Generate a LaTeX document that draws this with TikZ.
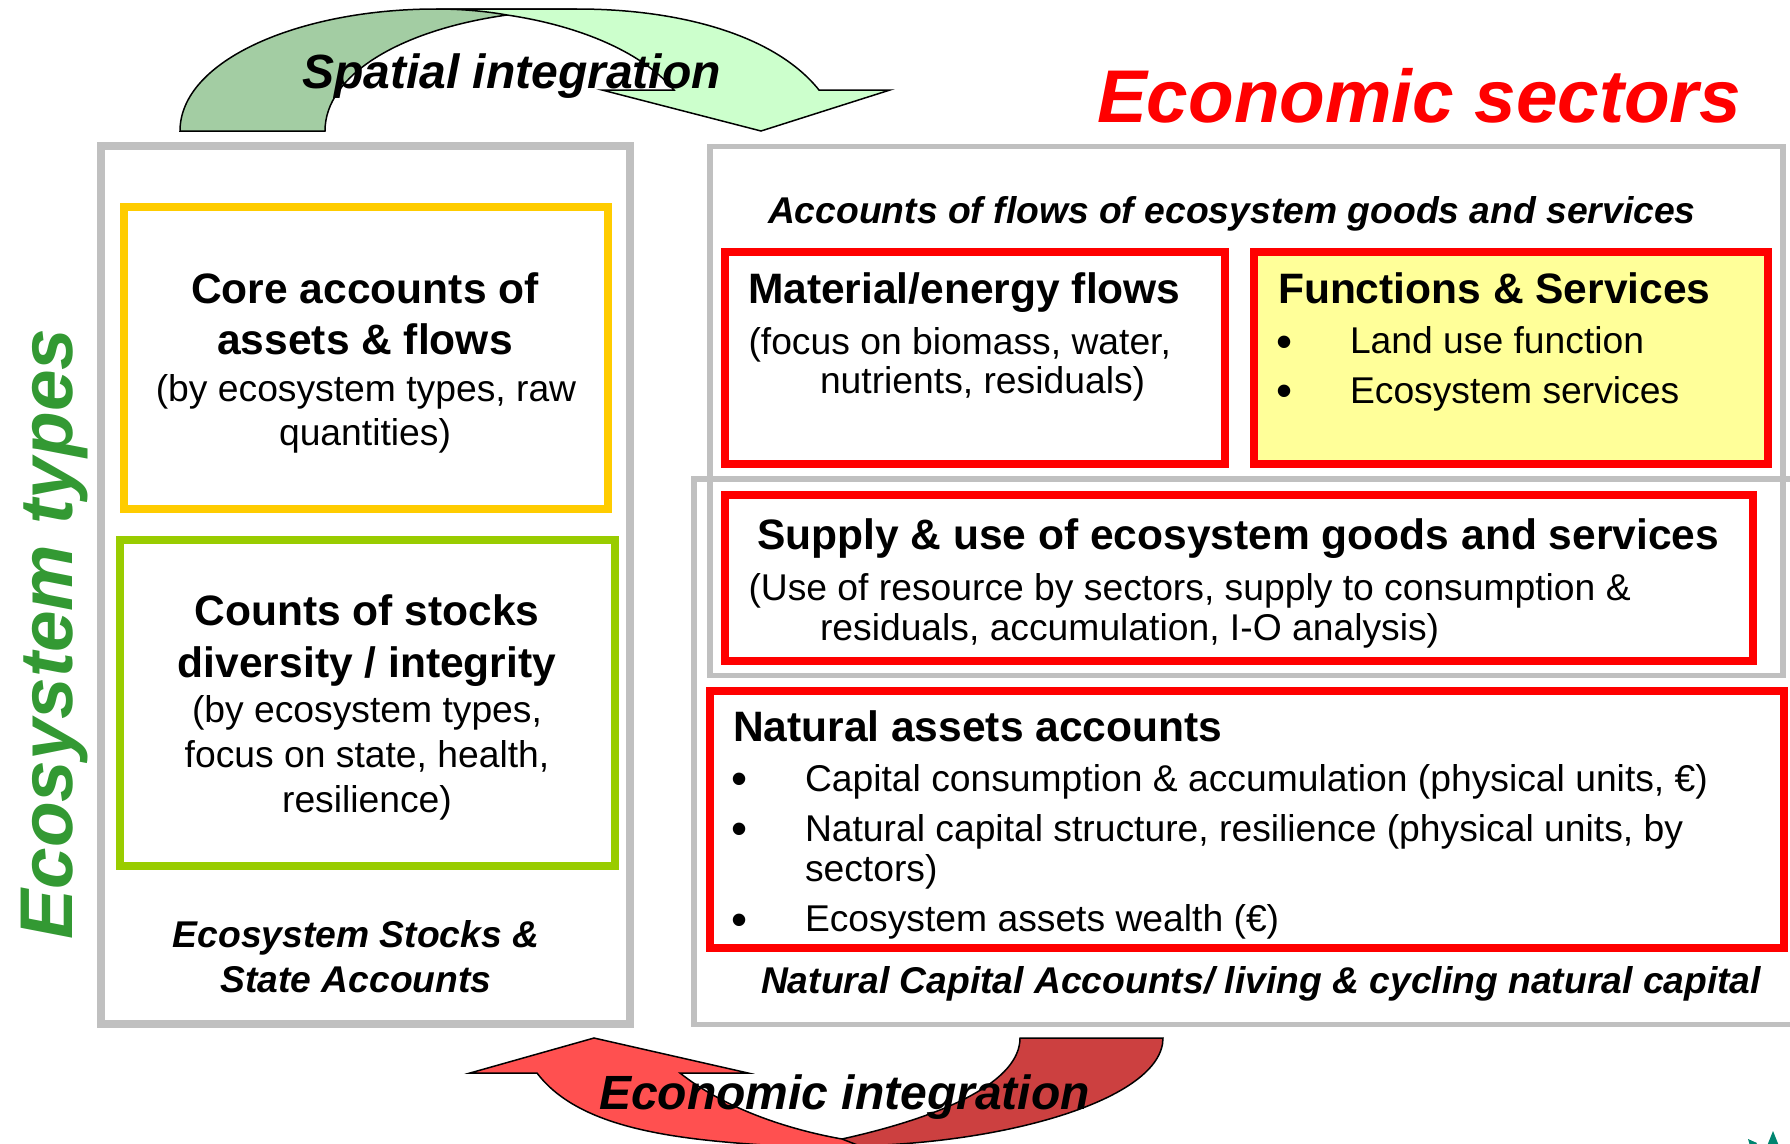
\documentclass[tikz,border=0pt]{standalone}
\usepackage{fontspec}
\setmainfont{Liberation Sans}
\newcommand{\fsz}[1]{\fontsize{#1}{#1}\selectfont}
\definecolor{boxgray}{HTML}{C0C0C0}
\definecolor{ecogreen}{HTML}{339933}
\definecolor{arrgl}{HTML}{CCFFCC}
\definecolor{arrgd}{HTML}{A3CDA3}
\definecolor{arrrl}{HTML}{FF5050}
\definecolor{arrrd}{HTML}{CC4040}
\definecolor{logoteal}{HTML}{008570}
\definecolor{boxyellow}{HTML}{FFCC00}
\definecolor{boxgreen}{HTML}{99CC00}
\definecolor{fillyellow}{HTML}{FFFF99}
\tikzset{
  px/.style={x=1bp,y=-1bp},
  graybox/.style={draw=boxgray,line width=8bp},
  thingray/.style={draw=boxgray,line width=5.7bp},
  redbox/.style={draw=red,line width=8bp},
  arrowpart/.style={draw=black,line width=1.5pt},
  txt/.style={inner sep=0pt,outer sep=0pt,anchor=base west,font=\fsz{37.4}},
  ctxt/.style={inner sep=0pt,outer sep=0pt,anchor=base,font=\fsz{37.4}},
  hd/.style={font=\fsz{42.7}\bfseries},
  bi/.style={font=\fsz{37.4}\bfseries\itshape},
  big/.style={font=\fsz{48.2}\bfseries\itshape},
  blt/.style={inner sep=0pt,outer sep=0pt,anchor=base west,font=\fsz{46}}
}
\begin{document}
\begin{tikzpicture}[px]
\useasboundingbox (0,0) rectangle (1790,1143);
\clip (0,0) rectangle (1790,1143);
% spatial arrow
\fill[arrgd,arrowpart] (180,131) .. controls (180,60) and (300,9) .. (436,9) -- (577,9) .. controls (540,9) and (520,12) .. (507,15) .. controls (400,30) and (325,75) .. (325,131) -- cycle;
\fill[arrgl,arrowpart] (436,9) -- (577,9) .. controls (680,9) and (775,35) .. (819,90) -- (890,90) -- (761,131) -- (602,90) -- (674,90) .. controls (640,50) and (575,25) .. (507,15) .. controls (485,11) and (460,9) .. (436,9) -- cycle;
% economic arrow
\fill[arrrd,arrowpart] (1020,1038) -- (1163,1038) .. controls (1163,1100) and (1000,1146) .. (842,1146) -- (790,1146) -- (842,1139) .. controls (950,1115) and (1020,1080) .. (1020,1038) -- cycle;
\fill[arrrl,arrowpart] (470,1073) -- (594,1038) -- (748,1073) -- (680,1073) .. controls (720,1105) and (780,1128) .. (842,1139) -- (860,1146) -- (780,1146) .. controls (680,1140) and (580,1130) .. (537,1073) -- cycle;
% logo fragment
\fill[logoteal] (1773,1131) -- (1779,1146) -- (1767,1146) -- cycle;
\fill[logoteal] (1748,1139) -- (1757,1143) -- (1755,1146) -- (1750,1146) -- cycle;
% boxes
\draw[graybox] (101,146) rectangle (630,1024);
\draw[thingray] (710,146.5) rectangle (1783,675.5);
\draw[thingray] (694,479) rectangle (1810,1024.5);
\draw[draw=boxyellow,line width=8bp] (124,207) rectangle (608,509);
\draw[draw=boxgreen,line width=8bp] (120,540) rectangle (615,866);
\draw[redbox] (725,252) rectangle (1225,464);
\draw[redbox,fill=fillyellow] (1254,252) rectangle (1768,464);
\draw[redbox] (725,495) rectangle (1753,661);
\draw[redbox,fill=white] (710,691) rectangle (1784,948);
% titles
\node[txt,font=\fsz{75}\bfseries\itshape,text=red] (econ) at (1097,122) {Economic sectors};
\node[ctxt,font=\fsz{75}\bfseries\itshape,text=ecogreen,rotate=90] (ecot) at (72,634) {Ecosystem types};
\node[txt,big] (spat) at (302,88) {Spatial integration};
\node[txt,big] (einteg) at (599,1109) {Economic integration};
% left column
\node[ctxt,hd] (c1) at (365,303.5) {Core accounts of};
\node[ctxt,hd] (c2) at (365,354.5) {assets \& flows};
\node[ctxt] (c3) at (366,401) {(by ecosystem types, raw};
\node[ctxt] (c4) at (365,445.5) {quantities)};
\node[ctxt,hd] (s1) at (367,625) {Counts of stocks};
\node[ctxt,hd] (s2) at (367,677.5) {diversity / integrity};
\node[ctxt] (s3) at (367,722.5) {(by ecosystem types,};
\node[ctxt] (s4) at (367,767) {focus on state, health,};
\node[ctxt] (s5) at (367,812) {resilience)};
\node[ctxt,bi] (l1) at (356,947) {Ecosystem Stocks \&};
\node[ctxt,bi] (l2) at (356,992) {State Accounts};
% right column
\node[txt,bi] (acc) at (768,223) {Accounts of flows of ecosystem goods and services};
\node[txt,hd] (m1) at (748,303.5) {Material/energy flows};
\node[txt] (m2) at (748.5,354) {(focus on biomass, water,};
\node[txt] (m3) at (820,393.5) {nutrients, residuals)};
\node[txt,hd] (f1) at (1278,303.5) {Functions \& Services};
\node[blt] (f2b) at (1276,357) {•};
\node[txt] (f2) at (1350,353.5) {Land use function};
\node[blt] (f3b) at (1276,406.5) {•};
\node[txt] (f3) at (1350,403) {Ecosystem services};
\node[txt,hd] (u1) at (757,549) {Supply \& use of ecosystem goods and services};
\node[txt] (u2) at (748.5,600) {(Use of resource by sectors, supply to consumption \&};
\node[txt] (u3) at (820,640) {residuals, accumulation, I-O analysis)};
\node[txt,hd] (n1) at (733,741) {Natural assets accounts};
\node[blt] (n2b) at (731,794.5) {•};
\node[txt] (n2) at (805,791) {Capital consumption \& accumulation (physical units, €)};
\node[blt] (n3b) at (731,844.5) {•};
\node[txt] (n3) at (805,841) {Natural capital structure, resilience (physical units, by};
\node[txt] (n3c) at (805,881) {sectors)};
\node[blt] (n4b) at (731,935) {•};
\node[txt] (n4) at (805,931.5) {Ecosystem assets wealth (€)};
\node[txt,bi] (nc) at (761,993) {Natural Capital Accounts/ living \& cycling natural capital};
\end{tikzpicture}
\end{document}
